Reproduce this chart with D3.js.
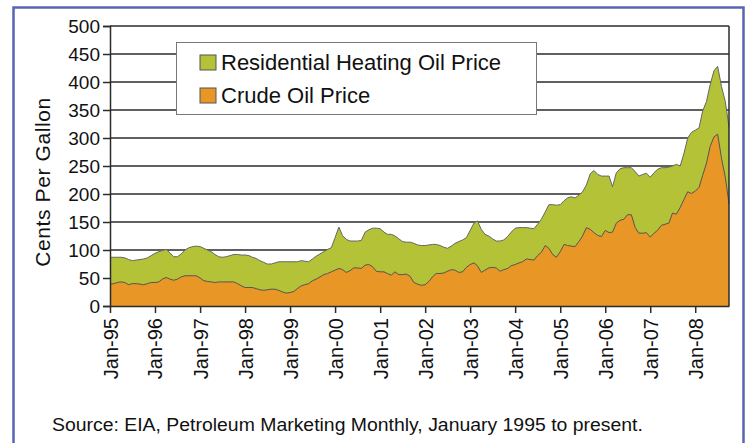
<!DOCTYPE html>
<html>
<head>
<meta charset="utf-8">
<script src="https://cdn.jsdelivr.net/npm/d3@7"></script>
<style>
  body { margin: 0; background: #fff; }
  svg text { font-family: "Liberation Sans", Arial, Helvetica, sans-serif; fill: #111; }
</style>
</head>
<body>
<div id="app"></div>
<script>
// monthly values, cents per gallon, Jan 1995 .. Oct 2008
const firstMonth = new Date(1995, 0, 1);

const heatingOil = [
  87, 87, 87, 87, 86, 83, 81, 82, 83, 84, 86, 90,
  94, 97, 99, 101, 95, 88, 88, 93, 100, 104, 106, 107,
  106, 103, 100, 97, 92, 88, 87, 88, 90, 92, 92, 91,
  91, 90, 87, 85, 81, 78, 75, 75, 77, 79, 79, 79,
  79, 79, 79, 81, 80, 79, 84, 89, 93, 97, 101, 104,
  122, 141, 126, 119, 116, 116, 116, 117, 132, 136, 139, 139,
  138, 132, 128, 128, 125, 120, 115, 114, 114, 112, 109, 108,
  108, 109, 110, 110, 108, 105, 103, 107, 112, 115, 118, 122,
  135, 148, 152, 137, 128, 125, 120, 116, 116, 118, 124, 132,
  139, 140, 140, 140, 139, 138, 146, 155, 168, 181, 181, 180,
  181, 188, 193, 195, 193, 198, 204, 216, 236, 242, 235, 232,
  232, 232, 213, 238, 245, 247, 247, 247, 240, 232, 235, 237,
  230, 238, 244, 247, 247, 248, 250, 253, 250, 272, 300, 310,
  314, 318, 348, 365, 395, 420, 428, 392, 365, 320
];

const crudeOil = [
  39, 40, 42, 43, 42, 38, 40, 40, 39, 38, 40, 42,
  42, 43, 48, 51, 48, 46, 48, 52, 54, 54, 54, 54,
  50, 45, 44, 43, 42, 43, 43, 43, 43, 43, 40, 36,
  33, 33, 33, 31, 29, 28, 29, 30, 30, 28, 25, 23,
  24, 26, 31, 36, 38, 40, 45, 48, 52, 56, 58, 61,
  64, 67, 65, 60, 63, 68, 68, 67, 73, 74, 70, 62,
  61, 61, 58, 55, 61, 56, 56, 57, 53, 42, 39, 37,
  38, 44, 52, 58, 58, 59, 62, 65, 64, 60, 61, 69,
  74, 77, 72, 60, 64, 68, 69, 68, 62, 65, 67, 72,
  74, 77, 79, 84, 83, 82, 90, 96, 108, 103, 92, 87,
  97, 110, 108, 107, 106, 115, 125, 140, 137, 131, 126, 124,
  135, 131, 132, 148, 153, 155, 163, 163, 140, 130, 130, 131,
  123, 130, 135, 144, 146, 148, 166, 164, 176, 190, 204, 201,
  205, 212, 233, 255, 285, 302, 307, 264, 230, 183
];

const seriesNames = ["Residential Heating Oil Price", "Crude Oil Price"];
const yTicks = [0, 50, 100, 150, 200, 250, 300, 350, 400, 450, 500];
const yTitle = "Cents Per Gallon";
const sourceNote = "Source: EIA, Petroleum Marketing Monthly, January 1995 to present.";

const W = 749, H = 443;
const plot = { left: 110, right: 729, top: 26, bottom: 306 };
const colors = { heating: "#b3c236", crude: "#e89626", edge: "#555", grid: "#2b2b2b", frame: "#5766b4" };

const months = heatingOil.map((v, i) => d3.timeMonth.offset(firstMonth, i));
const rows = months.map((d, i) => ({ date: d, heating: heatingOil[i], crude: crudeOil[i] }));

const svg = d3.select("#app").append("svg")
  .attr("width", W)
  .attr("height", H);

svg.append("rect")
  .attr("width", W).attr("height", H)
  .attr("fill", "#fff");

// blue frame around the whole figure (runs off the bottom)
svg.append("rect")
  .attr("x", 13.5).attr("y", 7.5)
  .attr("width", 730).attr("height", 470)
  .attr("fill", "none")
  .attr("stroke", colors.frame)
  .attr("stroke-width", 2.5);

const x = d3.scaleTime()
  .domain([months[0], months[months.length - 1]])
  .range([plot.left, plot.right]);

const y = d3.scaleLinear()
  .domain([0, 500])
  .range([plot.bottom, plot.top]);

// gridlines
svg.append("g")
  .selectAll("line")
  .data(yTicks.filter(t => t > 0))
  .enter().append("line")
  .attr("x1", plot.left).attr("x2", plot.right)
  .attr("y1", d => y(d)).attr("y2", d => y(d))
  .attr("stroke", colors.grid)
  .attr("stroke-width", 1.3);

const areaOf = key => d3.area()
  .x(d => x(d.date))
  .y0(y(0))
  .y1(d => y(d[key]));

const lineOf = key => d3.line()
  .x(d => x(d.date))
  .y(d => y(d[key]));

svg.append("path").datum(rows)
  .attr("d", areaOf("heating"))
  .attr("fill", colors.heating);
svg.append("path").datum(rows)
  .attr("d", lineOf("heating"))
  .attr("fill", "none").attr("stroke", "#666").attr("stroke-width", 1);

svg.append("path").datum(rows)
  .attr("d", areaOf("crude"))
  .attr("fill", colors.crude);
svg.append("path").datum(rows)
  .attr("d", lineOf("crude"))
  .attr("fill", "none").attr("stroke", colors.edge).attr("stroke-width", 1);

// right edge of the plot
svg.append("line")
  .attr("x1", plot.right).attr("x2", plot.right)
  .attr("y1", plot.top).attr("y2", plot.bottom)
  .attr("stroke", colors.grid).attr("stroke-width", 1.5);

// y axis
const yAxis = svg.append("g")
  .attr("transform", `translate(${plot.left},0)`)
  .call(d3.axisLeft(y).tickValues(yTicks).tickSize(7).tickPadding(3).tickFormat(d3.format("d")));
yAxis.selectAll("text").attr("font-size", 19).attr("fill", "#111");
yAxis.selectAll("line, path").attr("stroke", colors.grid).attr("stroke-width", 1.5);

// x axis
const yearTicks = d3.timeYear.range(new Date(1995, 0, 1), new Date(2008, 1, 1));
const xAxis = svg.append("g")
  .attr("transform", `translate(0,${plot.bottom})`)
  .call(d3.axisBottom(x).tickValues(yearTicks).tickSize(7).tickSizeOuter(0).tickFormat(d3.timeFormat("%b-%y")));
xAxis.selectAll("line, path").attr("stroke", colors.grid).attr("stroke-width", 1.5);
xAxis.selectAll("text")
  .attr("font-size", 20)
  .attr("fill", "#111")
  .attr("text-anchor", "end")
  .attr("transform", "rotate(-90)")
  .attr("x", -12)
  .attr("y", 0)
  .attr("dy", "0.35em");

// axis title
svg.append("text")
  .attr("transform", `translate(50,182) rotate(-90)`)
  .attr("text-anchor", "middle")
  .attr("font-size", 21)
  .attr("letter-spacing", 0.6)
  .text(yTitle);

// legend
const legend = svg.append("g").attr("transform", "translate(176,42)");
legend.append("rect")
  .attr("x", 0.5).attr("y", 0.5)
  .attr("width", 360).attr("height", 72)
  .attr("fill", "#fff")
  .attr("stroke", "#777");

const legendColors = [colors.heating, colors.crude];
const legendItem = legend.selectAll("g.item")
  .data(seriesNames)
  .enter().append("g")
  .attr("class", "item")
  .attr("transform", (d, i) => `translate(24,${13 + i * 33})`);
legendItem.append("rect")
  .attr("width", 16).attr("height", 15)
  .attr("fill", (d, i) => legendColors[i])
  .attr("stroke", "#555");
legendItem.append("text")
  .attr("x", 21).attr("y", 15)
  .attr("font-size", 22)
  .text(d => d);

// source note
svg.append("text")
  .attr("transform", "translate(52,431) scale(1.05,1)")
  .attr("font-size", 18.5)
  .text(sourceNote);
</script>
</body>
</html>
